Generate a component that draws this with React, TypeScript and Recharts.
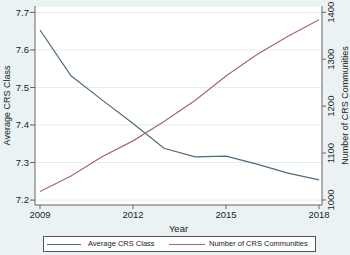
import { LineChart, Line, XAxis, YAxis, CartesianGrid, Legend } from 'recharts';

const years = [2009, 2010, 2011, 2012, 2013, 2014, 2015, 2016, 2017, 2018];
const avgClass = [7.653, 7.531, 7.467, 7.404, 7.338, 7.315, 7.317, 7.296, 7.272, 7.254];
const communities = [1018, 1051, 1092, 1126, 1167, 1212, 1264, 1310, 1349, 1384];

const xTicks = [2009, 2012, 2015, 2018];
const leftTicks = [7.2, 7.3, 7.4, 7.5, 7.6, 7.7];
const rightTicks = [1000, 1100, 1200, 1300, 1400];

const BLUE = '#50697b';
const RED = '#a4696f';
const FONT = '"Liberation Sans", Arial, sans-serif';

const data = years.map((y, i) => ({ year: y, avg: avgClass[i], num: communities[i] }));

const RightTick = (props: any) => {
  const { x, y, payload } = props;
  const cx = x + 3;
  return (
    <text
      x={cx}
      y={y}
      transform={`rotate(-90, ${cx}, ${y})`}
      textAnchor="middle"
      dominantBaseline="central"
      fontSize={9.5}
      fill="#222"
      fontFamily={FONT}
    >
      {payload.value}
    </text>
  );
};

const LegendBox = () => (
  <div style={{ height: 20, position: 'relative', fontFamily: FONT }}>
    <div
      style={{
        position: 'absolute',
        left: 43,
        top: 1,
        width: 273,
        height: 16,
        boxSizing: 'border-box',
        border: '1px solid #555',
        background: '#fff',
        fontSize: 7.5,
        color: '#222',
      }}
    >
      <div style={{ position: 'absolute', left: 3, top: 7, width: 34, height: 1, background: BLUE }} />
      <span style={{ position: 'absolute', left: 44, top: 2, whiteSpace: 'nowrap' }}>Average CRS Class</span>
      <div style={{ position: 'absolute', left: 125, top: 7, width: 36, height: 1, background: RED }} />
      <span style={{ position: 'absolute', left: 165, top: 2, whiteSpace: 'nowrap' }}>Number of CRS Communities</span>
    </div>
  </div>
);

export default function App() {
  return (
    <div style={{ position: 'absolute', left: 0, top: 0, width: 350, height: 255, background: '#eaf2f3' }}>
      <LineChart width={350} height={255} data={data} margin={{ top: 6, right: 0, bottom: 0, left: 0 }}>
        <CartesianGrid yAxisId="l" vertical={false} stroke="#e6ecee" fill="#fff" fillOpacity={1} />
        <XAxis
          dataKey="year"
          type="number"
          domain={[2009, 2018]}
          ticks={xTicks}
          padding={{ left: 5, right: 3 }}
          height={30}
          tickSize={4}
          tickMargin={2}
          stroke="#666"
          tick={{ fontSize: 9.5, fill: '#222', fontFamily: FONT }}
          label={{ value: 'Year', position: 'insideBottom', offset: 3, style: { fontSize: 9.5, fill: '#222', fontFamily: FONT } }}
        />
        <YAxis
          yAxisId="l"
          orientation="left"
          width={35}
          domain={[7.187, 7.717]}
          ticks={leftTicks}
          allowDataOverflow
          tickSize={5}
          tickMargin={1}
          stroke="#666"
          tickFormatter={(v: number) => v.toFixed(1)}
          tick={{ fontSize: 9.5, fill: '#222', fontFamily: FONT }}
          label={{
            value: 'Average CRS Class',
            angle: -90,
            position: 'insideLeft',
            offset: 7,
            style: { textAnchor: 'middle', fontSize: 9, fill: '#222', fontFamily: FONT },
          }}
        />
        <YAxis
          yAxisId="r"
          orientation="right"
          width={28}
          domain={[989.3, 1413.4]}
          ticks={rightTicks}
          allowDataOverflow
          tickSize={4}
          tickMargin={2}
          stroke="#666"
          tick={<RightTick />}
          label={{
            value: 'Number of CRS Communities',
            angle: -90,
            position: 'insideRight',
            offset: 5,
            style: { textAnchor: 'middle', fontSize: 9, fill: '#222', fontFamily: FONT },
          }}
        />
        <Line yAxisId="l" dataKey="avg" stroke={BLUE} strokeWidth={1.2} dot={false} isAnimationActive={false} />
        <Line yAxisId="r" dataKey="num" stroke={RED} strokeWidth={1.2} dot={false} isAnimationActive={false} />
        <Legend verticalAlign="bottom" content={<LegendBox />} wrapperStyle={{ height: 20 }} />
      </LineChart>
    </div>
  );
}
